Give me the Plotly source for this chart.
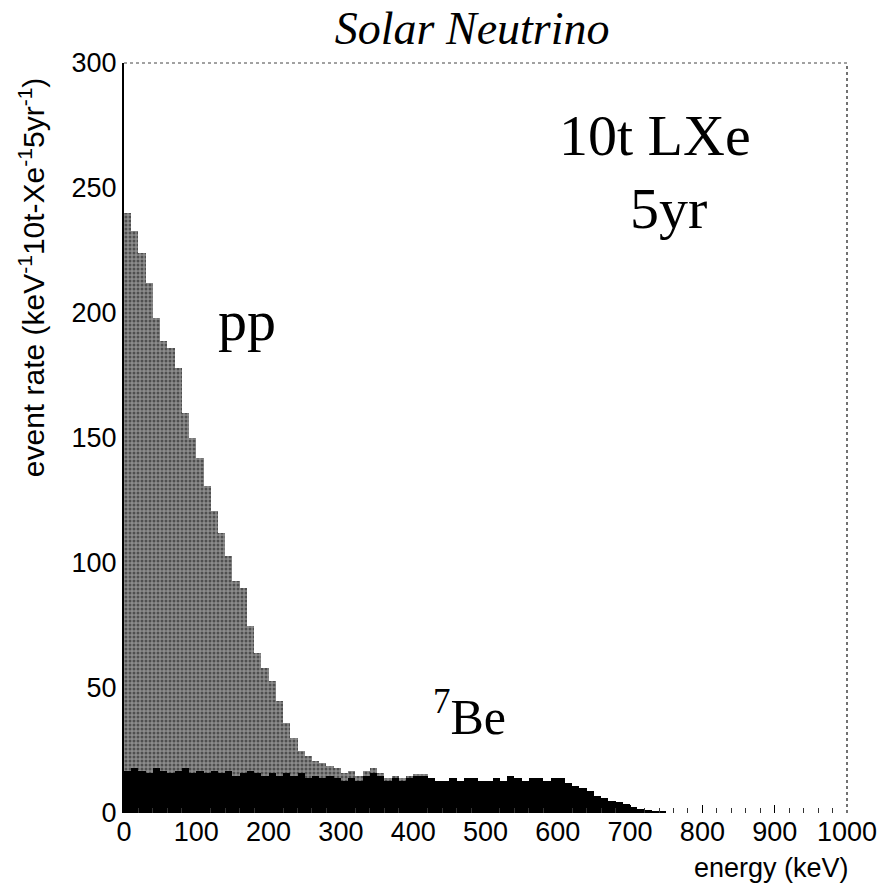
import plotly.graph_objects as go

# Energy bin centres (keV), 10 keV wide bins
energy_kev = [5, 15, 25, 35, 45, 55, 65, 75, 85, 95,
              105, 115, 125, 135, 145, 155, 165, 175, 185, 195,
              205, 215, 225, 235, 245, 255, 265, 275, 285, 295,
              305, 315, 325, 335, 345, 355, 365, 375, 385, 395,
              405, 415, 425, 435, 445, 455, 465, 475, 485, 495,
              505, 515, 525, 535, 545, 555, 565, 575, 585, 595,
              605, 615, 625, 635, 645, 655, 665, 675, 685, 695,
              705, 715, 725, 735, 745]

# 7Be contribution (events / keV / 10t / 5yr)
be7_rate = [17, 18, 17, 16, 18, 17, 16, 17, 18, 16,
            17, 16, 17, 16, 17, 15, 16, 17, 16, 15,
            16, 15, 16, 15, 16, 14, 15, 14, 15, 14,
            13, 14, 13, 15, 16, 15, 13, 14, 13, 14,
            15, 15, 14, 13, 13, 14, 13, 14, 14, 13,
            13, 14, 13, 15, 14, 13, 14, 14, 13, 14,
            14, 12, 11, 10, 9, 7, 6, 5, 4.5, 3.5,
            2.5, 1.5, 1.2, 1.0, 0.5]

# pp contribution stacked on top of 7Be
pp_rate = [223, 215, 207, 196, 180, 172, 170, 161, 142, 134,
           125, 115, 104, 96, 86, 78, 74, 58, 48, 43,
           37, 30, 20, 15, 9, 9, 6, 6, 4, 4,
           3, 3, 2, 2, 2, 1, 1, 1, 1, 1,
           0.5, 0.5, 0, 0, 0, 0, 0, 0, 0, 0,
           0, 0, 0, 0, 0, 0, 0, 0, 0, 0,
           0, 0, 0, 0, 0, 0, 0, 0, 0, 0,
           0, 0, 0, 0, 0]

x_ticks = [0, 100, 200, 300, 400, 500, 600, 700, 800, 900, 1000]
y_ticks = [0, 50, 100, 150, 200, 250, 300]

SANS = "Liberation Sans, Arial, Helvetica"
SERIF = "Liberation Serif, Times New Roman, serif"

fig = go.Figure()
fig.add_trace(go.Bar(
    x=energy_kev, y=be7_rate, width=10, name="7Be",
    marker=dict(color="black", line=dict(width=0)),
))
fig.add_trace(go.Bar(
    x=energy_kev, y=pp_rate, width=10, name="pp",
    marker=dict(color="#7a7a7a", line=dict(width=0),
                pattern=dict(shape=".", fgcolor="#111111", bgcolor="#8c8c8c",
                             size=4, solidity=0.45)),
))

fig.update_layout(
    width=896, height=884,
    barmode="stack", bargap=0,
    showlegend=False,
    paper_bgcolor="white", plot_bgcolor="white",
    margin=dict(l=124, r=49, t=63, b=71),
    font=dict(family=SANS, color="black", size=27),
    title=dict(text="<i>Solar Neutrino</i>", x=0.527, xanchor="center",
               y=0.968, yanchor="middle", yref="container",
               font=dict(family=SERIF, size=46, color="black")),
    xaxis=dict(range=[0, 1000], tickvals=x_ticks, ticktext=[str(v) for v in x_ticks],
               showgrid=False, zeroline=False, showline=False,
               ticks="inside", ticklen=8, tickcolor="black", tickwidth=1,
               minor=dict(ticks="inside", ticklen=5, dtick=20, tickcolor="#333"),
               tickfont=dict(family=SANS, size=27)),
    yaxis=dict(range=[0, 300], tickvals=y_ticks, ticktext=[str(v) for v in y_ticks],
               showgrid=False, zeroline=False, showline=True, linecolor="black",
               linewidth=2, ticks="", tickfont=dict(family=SANS, size=27)),
)

# dotted top and right frame
fig.add_shape(type="line", xref="paper", yref="paper", x0=0, x1=1, y0=1, y1=1,
              line=dict(color="#444", width=1, dash="dot"))
fig.add_shape(type="line", xref="paper", yref="paper", x0=1, x1=1, y0=0, y1=1,
              line=dict(color="#444", width=1.5, dash="dot"))

# axis titles
fig.add_annotation(text="event rate (keV<sup>-1</sup>10t-Xe<sup>-1</sup>5yr<sup>-1</sup>)",
                   xref="paper", yref="paper", x=-0.128, y=0.715, textangle=-90,
                   xanchor="center", yanchor="middle", showarrow=False,
                   font=dict(family=SANS, size=30))
fig.add_annotation(text="energy (keV)", xref="paper", yref="paper", x=1.005, y=-0.050,
                   xanchor="right", yanchor="top", showarrow=False,
                   font=dict(family=SANS, size=27))

# in-plot labels
fig.add_annotation(text="10t LXe", xref="x", yref="y", x=735, y=271,
                   showarrow=False, font=dict(family=SERIF, size=58))
fig.add_annotation(text="5yr", xref="x", yref="y", x=753, y=242,
                   showarrow=False, font=dict(family=SERIF, size=58))
fig.add_annotation(text="pp", xref="x", yref="y", x=170, y=197,
                   showarrow=False, font=dict(family=SERIF, size=58))
fig.add_annotation(text="<sup>7</sup>Be", xref="x", yref="y", x=478, y=40,
                   showarrow=False, font=dict(family=SERIF, size=50))

fig.write_html("out.html")
